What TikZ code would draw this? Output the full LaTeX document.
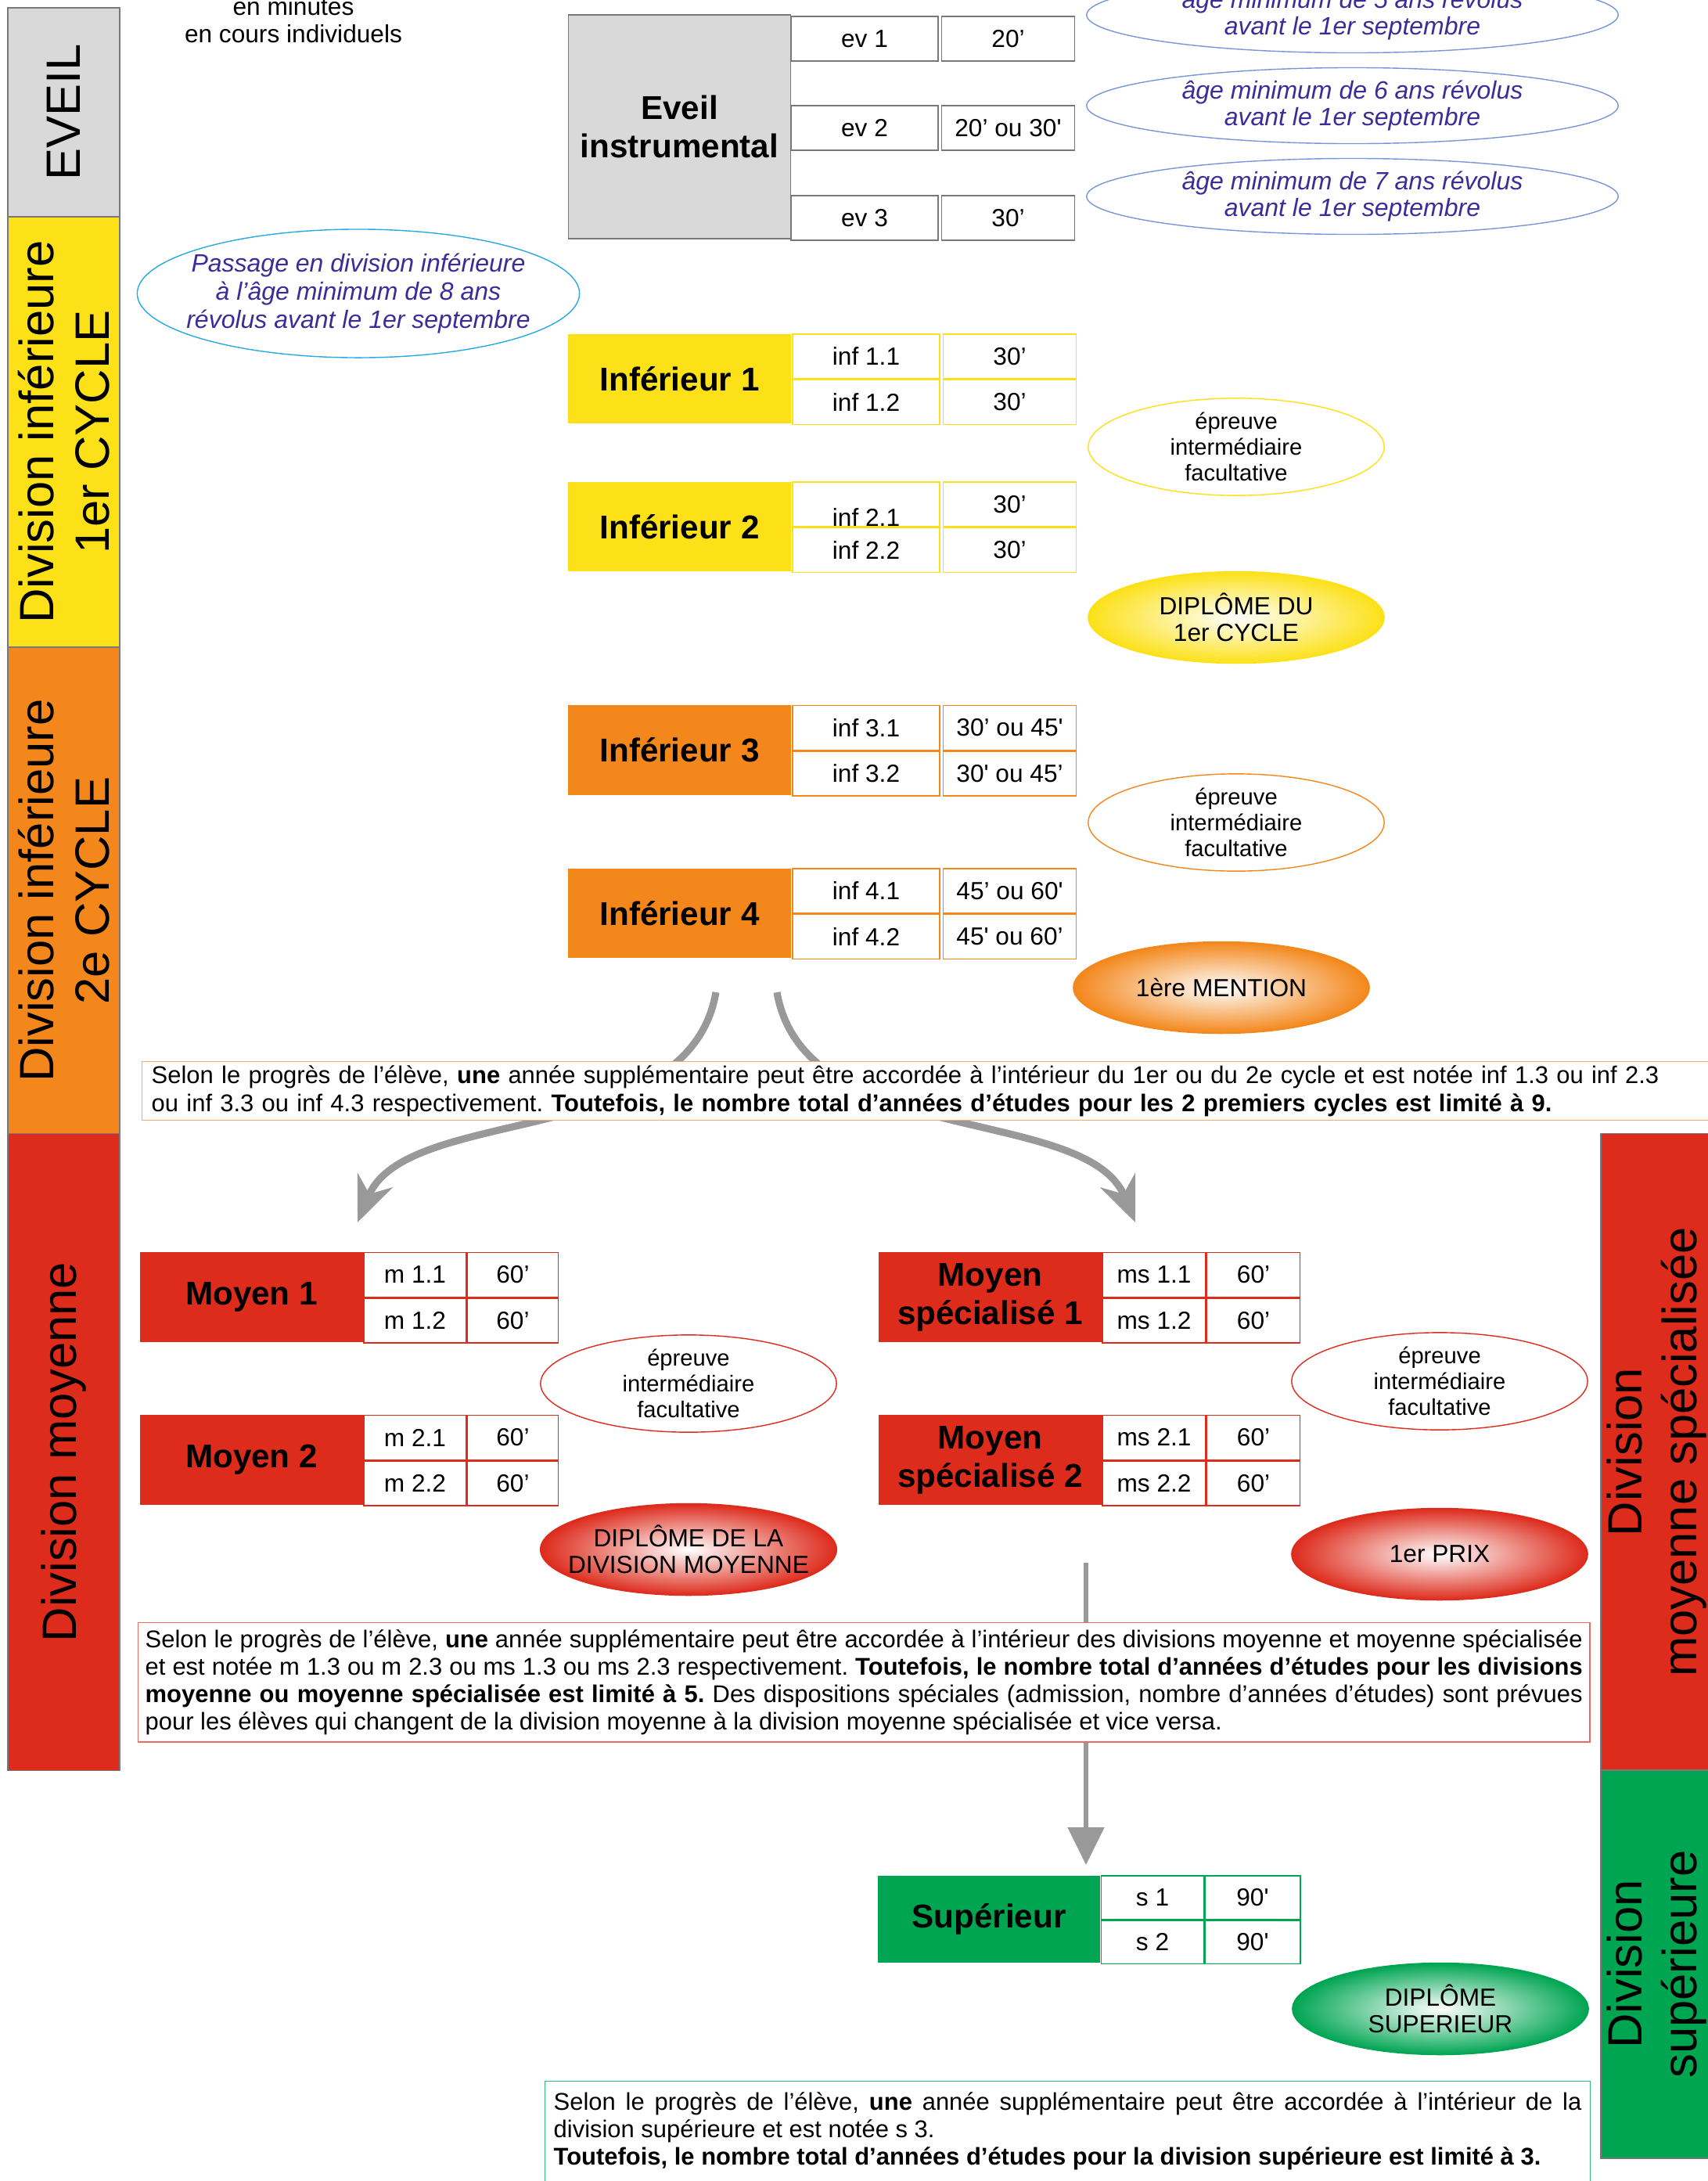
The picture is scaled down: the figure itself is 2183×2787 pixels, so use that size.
\documentclass[tikz,border=0pt]{standalone}
\usepackage{fontspec}
\setmainfont{Liberation Sans}
\usepackage{tikz}
\usetikzlibrary{positioning}
\usetikzlibrary{shapes.geometric}
\usetikzlibrary{arrows.meta}
\usetikzlibrary{backgrounds}

\definecolor{eveilgray}{RGB}{217,217,217}
\definecolor{framegray}{RGB}{120,120,120}
\definecolor{infyellow}{RGB}{252,225,24}
\definecolor{inforange}{RGB}{243,135,27}
\definecolor{moyred}{RGB}{221,43,28}
\definecolor{supgreen}{RGB}{0,165,82}
\definecolor{notepurple}{RGB}{58,45,152}
\definecolor{noteblue}{RGB}{120,150,215}
\definecolor{notecyan}{RGB}{40,170,225}
\definecolor{arrowgray}{RGB}{153,153,153}

\newcommand{\sq}{\textquotesingle}
\frenchspacing

\begin{document}
\begin{tikzpicture}
		[
		x=0.01cm, y=-0.01cm,
		font=\fontsize{9}{10}\selectfont
		]
		
		% Node styles: bars, level boxes, cells, notes
		\tikzstyle{side bar}=[rotate=90,draw=framegray,inner sep=0,minimum height=1.43cm,align=center,font=\fontsize{17.5}{20}\selectfont];
		\tikzstyle{level box}=[inner sep=0,minimum width=2.84cm,minimum height=1.14cm,align=center,font=\fontsize{12}{14}\selectfont\bfseries];
		\tikzstyle{time cell}=[draw,fill=white,inner sep=0,minimum height=0.57cm,font=\fontsize{9}{10}\selectfont];
		\tikzstyle{code cell}=[time cell,minimum width=1.88cm];
		\tikzstyle{dur cell}=[time cell,minimum width=1.70cm];
		\tikzstyle{age note}=[ellipse,draw=noteblue,inner sep=0,minimum width=6.79cm,minimum height=0.97cm,align=center,text=notepurple,font=\fontsize{9.1}{9.6}\selectfont\itshape];
		\tikzstyle{exam note}=[ellipse,draw,inner sep=0,minimum width=3.78cm,minimum height=1.17cm,align=center,font=\fontsize{8.3}{9.4}\selectfont];
		\tikzstyle{diploma}=[exam note,inner xsep=-0.2cm,inner color=white,font=\fontsize{9}{9.8}\selectfont];
		\tikzstyle{remark}=[draw,fill=white,inner xsep=0.12cm,inner ysep=0cm,anchor=north west,font=\fontsize{8.8}{10}\selectfont];
		\tikzstyle{big arrow}=[draw=arrowgray,line width=2.6pt,-{Stealth[length=0.58cm,width=0.48cm]}];
		
		\useasboundingbox (0,0) rectangle (2183,2787);
		
		% Side bars
		\node[side bar,fill=eveilgray,minimum width=2.67cm](eveil)at(81.5,143.5){EVEIL};
		\node[side bar,fill=infyellow,minimum width=5.50cm](cycle1)at(81.5,552){Division inférieure\\1er CYCLE};
		\node[side bar,fill=inforange,minimum width=6.22cm](cycle2)at(81.5,1138){Division inférieure\\2e CYCLE};
		\node[side bar,fill=moyred,minimum width=8.13cm](moyenne)at(81.5,1855.5){Division moyenne};
		\node[side bar,fill=moyred,minimum width=8.13cm](specialisee)at(2117.5,1855.5){Division\\moyenne spécialisée};
		\node[side bar,fill=supgreen,minimum width=4.96cm](superieure)at(2117.5,2510){Division\\supérieure};
		
		% Unit
		\node[align=center](unit)at(375,26){en minutes\\en cours individuels};
		
		% Eveil
		\node[level box,fill=eveilgray,draw=framegray,minimum height=2.86cm](ev)at(868.5,162){Eveil\\instrumental};
		\foreach \i/\y/\t in {1/49.5/20’, 2/163.5/20’ ou 30\sq, 3/278.5/30’}{
			\node[code cell,draw=framegray](ev\i)at(1105,\y){ev \i};
			\node[dur cell,draw=framegray,right=0.03cm of ev\i](ev\i-t){\t};
		}
		\foreach \i/\n/\y in {1/5/19, 2/6/135, 3/7/251}
			\node[age note](age\i)at(1728.5,\y){âge minimum de \n{} ans révolus\\avant le 1er septembre};
		\node[age note,draw=notecyan,inner xsep=-0.2cm,minimum width=5.65cm,minimum height=1.64cm,font=\fontsize{9.1}{10.2}\selectfont\itshape](passage)at(458,375){Passage en division inférieure\\à l’âge minimum de 8 ans\\révolus avant le 1er septembre};
		
		% Inferieur 1
		\node[level box,fill=infyellow](inf1)at(868.5,484){Inférieur 1};
		\node[code cell,draw=infyellow,below right=0cm and 0.01cm of inf1.north east](inf1-1){inf 1.1};
		\node[code cell,draw=infyellow,below=0cm of inf1-1](inf1-2){inf 1.2};
		\node[dur cell,draw=infyellow,right=0.03cm of inf1-1](inf1-1t){30’};
		\node[dur cell,draw=infyellow,right=0.03cm of inf1-2](inf1-2t){30’};
		% Inferieur 2
		\node[level box,fill=infyellow](inf2)at(868.5,673){Inférieur 2};
		\node[code cell,draw=infyellow,text height=16pt,text depth=0pt,below right=0cm and 0.01cm of inf2.north east](inf2-1){inf 2.1};
		\node[code cell,draw=infyellow,below=0cm of inf2-1](inf2-2){inf 2.2};
		\node[dur cell,draw=infyellow,right=0.03cm of inf2-1](inf2-1t){30’};
		\node[dur cell,draw=infyellow,right=0.03cm of inf2-2](inf2-2t){30’};
		% Inferieur 3
		\node[level box,fill=inforange](inf3)at(868.5,958.5){Inférieur 3};
		\node[code cell,draw=inforange,below right=0cm and 0.01cm of inf3.north east](inf3-1){inf 3.1};
		\node[code cell,draw=inforange,below=0cm of inf3-1](inf3-2){inf 3.2};
		\node[dur cell,draw=inforange,right=0.03cm of inf3-1](inf3-1t){30’ ou 45\sq};
		\node[dur cell,draw=inforange,right=0.03cm of inf3-2](inf3-2t){30\sq{} ou 45’};
		% Inferieur 4
		\node[level box,fill=inforange](inf4)at(868.5,1167){Inférieur 4};
		\node[code cell,draw=inforange,below right=0cm and 0.01cm of inf4.north east](inf4-1){inf 4.1};
		\node[code cell,draw=inforange,below=0cm of inf4-1](inf4-2){inf 4.2};
		\node[dur cell,draw=inforange,right=0.03cm of inf4-1](inf4-1t){45’ ou 60\sq};
		\node[dur cell,draw=inforange,right=0.03cm of inf4-2](inf4-2t){45\sq{} ou 60’};
		
		% Exams and diplomas of the lower division
		\node[exam note,draw=infyellow](exam1)at(1580,571){épreuve\\intermédiaire\\facultative};
		\node[diploma,outer color=infyellow,draw=infyellow](dipl1)at(1580,789){DIPLÔME DU\\1er CYCLE};
		\node[exam note,draw=inforange](exam2)at(1580,1051){épreuve\\intermédiaire\\facultative};
		\node[diploma,outer color=inforange,draw=inforange](mention)at(1561,1262){1ère MENTION};
		
		% Moyen
		\node[level box,fill=moyred](moy1)at(321.5,1657.5){Moyen 1};
		\node[time cell,draw=moyred,minimum width=1.31cm,below right=0cm and 0cm of moy1.north east](moy1-1){m 1.1};
		\node[time cell,draw=moyred,minimum width=1.31cm,below=0cm of moy1-1](moy1-2){m 1.2};
		\node[time cell,draw=moyred,minimum width=1.16cm,right=0cm of moy1-1](moy1-1t){60’};
		\node[time cell,draw=moyred,minimum width=1.16cm,right=0cm of moy1-2](moy1-2t){60’};
		\node[level box,fill=moyred](moy2)at(321.5,1865.5){Moyen 2};
		\node[time cell,draw=moyred,minimum width=1.31cm,below right=0cm and 0cm of moy2.north east](moy2-1){m 2.1};
		\node[time cell,draw=moyred,minimum width=1.31cm,below=0cm of moy2-1](moy2-2){m 2.2};
		\node[time cell,draw=moyred,minimum width=1.16cm,right=0cm of moy2-1](moy2-1t){60’};
		\node[time cell,draw=moyred,minimum width=1.16cm,right=0cm of moy2-2](moy2-2t){60’};
		\node[exam note,draw=moyred](exam3)at(880,1768){épreuve\\intermédiaire\\facultative};
		\node[diploma,outer color=moyred,draw=moyred](dipl2)at(880,1980){DIPLÔME DE LA\\DIVISION MOYENNE};
		
		% Moyen specialise
		\node[level box,fill=moyred](ms1)at(1265.5,1657.5){Moyen\\spécialisé 1};
		\node[time cell,draw=moyred,minimum width=1.32cm,below right=0cm and 0cm of ms1.north east](ms1-1){ms 1.1};
		\node[time cell,draw=moyred,minimum width=1.32cm,below=0cm of ms1-1](ms1-2){ms 1.2};
		\node[time cell,draw=moyred,minimum width=1.19cm,right=0cm of ms1-1](ms1-1t){60’};
		\node[time cell,draw=moyred,minimum width=1.19cm,right=0cm of ms1-2](ms1-2t){60’};
		\node[level box,fill=moyred](ms2)at(1265.5,1865.5){Moyen\\spécialisé 2};
		\node[time cell,draw=moyred,minimum width=1.32cm,below right=0cm and 0cm of ms2.north east](ms2-1){ms 2.1};
		\node[time cell,draw=moyred,minimum width=1.32cm,below=0cm of ms2-1](ms2-2){ms 2.2};
		\node[time cell,draw=moyred,minimum width=1.19cm,right=0cm of ms2-1](ms2-1t){60’};
		\node[time cell,draw=moyred,minimum width=1.19cm,right=0cm of ms2-2](ms2-2t){60’};
		\node[exam note,draw=moyred](exam4)at(1840,1765){épreuve\\intermédiaire\\facultative};
		\node[diploma,outer color=moyred,draw=moyred](prix)at(1840,1986){1er PRIX};
		
		% Superieur
		\node[level box,fill=supgreen,minimum height=1.11cm](sup)at(1264,2452.5){Supérieur};
		\node[time cell,draw=supgreen,minimum width=1.31cm,minimum height=0.555cm,below right=0cm and 0cm of sup.north east](sup-1){s 1};
		\node[time cell,draw=supgreen,minimum width=1.31cm,minimum height=0.555cm,below=0cm of sup-1](sup-2){s 2};
		\node[time cell,draw=supgreen,minimum width=1.22cm,minimum height=0.555cm,right=0cm of sup-1](sup-1t){90\sq};
		\node[time cell,draw=supgreen,minimum width=1.22cm,minimum height=0.555cm,right=0cm of sup-2](sup-2t){90\sq};
		\node[diploma,outer color=supgreen,draw=supgreen](dipl3)at(1841,2567){DIPLÔME\\SUPERIEUR};
		
		% Remarks
		\node[remark,draw=inforange!70,text width=20cm,minimum height=0.75cm,align=left](rule-inf)at(181,1356){Selon le progrès de l’élève, \textbf{une} année supplémentaire peut être accordée à l’intérieur du 1er ou du 2e cycle et est notée inf 1.3 ou inf 2.3\\ou inf 3.3 ou inf 4.3 respectivement. \textbf{Toutefois, le nombre total d’années d’études pour les 2 premiers cycles est limité à 9.}};
		\node[remark,draw=moyred!70,inner xsep=0.09cm,text width=18.36cm,minimum height=1.52cm,align=justify](rule-moy)at(176,2073){Selon le progrès de l’élève, \textbf{une} année supplémentaire peut être accordée à l’intérieur des divisions moyenne et moyenne spécialisée\linebreak et est notée m 1.3 ou m 2.3 ou ms 1.3 ou ms 2.3 respectivement. \textbf{Toutefois, le nombre total d’années d’études pour les divisions}\linebreak \textbf{moyenne ou moyenne spécialisée est limité à 5.} Des dispositions spéciales (admission, nombre d’années d’études) sont prévues\linebreak pour les élèves qui changent de la division moyenne à la division moyenne spécialisée et vice versa.};
		\node[remark,draw=supgreen!80,inner xsep=0.11cm,inner ysep=0.14cm,text width=13.13cm,align=justify](rule-sup)at(696,2659){Selon le progrès de l’élève, \textbf{une} année supplémentaire peut être accordée à l’intérieur de la\linebreak division supérieure et est notée s 3.\\\textbf{Toutefois, le nombre total d’années d’études pour la division supérieure est limité à 3.}};
		
		% Arrows
		\coordinate(split-l)at(915,1268);
		\coordinate(split-r)at(993,1268);
		\coordinate(to-moy)at(457,1562);
		\coordinate(to-ms)at(1451,1562);
		\coordinate(from-ms)at(1388,1997);
		\coordinate(to-sup)at(1388,2383);
		\begin{scope}[on background layer]
			\draw[big arrow](split-l) .. controls (880,1470) and (520,1410) .. (to-moy);
			\draw[big arrow](split-r) .. controls (1028,1470) and (1388,1410) .. (to-ms);
			\draw[draw=arrowgray,line width=1.5pt,-{Triangle[length=0.48cm,width=0.46cm]}](from-ms)--(to-sup);
		\end{scope}
		\end{tikzpicture}
\end{document}
